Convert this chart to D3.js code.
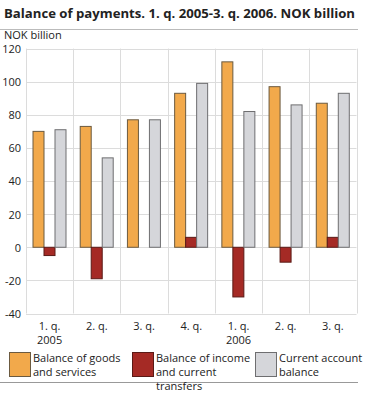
<!DOCTYPE html>
<html>
<head>
<meta charset="utf-8">
<script src="https://cdn.jsdelivr.net/npm/d3@7"></script>
<style>
body{margin:0;background:#fff;}
text{font-family:"Open Sans",sans-serif;fill:#222;}
</style>
</head>
<body>
<div id="chart"></div>
<script>
var W = 366, H = 395;
var quarters = ["1. q.", "2. q.", "3. q.", "4. q.", "1. q.", "2. q.", "3. q."];
var years = ["2005", "", "", "", "2006", "", ""];
var goods = [70, 73, 77, 93, 112, 97, 87];
var income = [-5, -19, 0, 6, -30, -9, 6];
var current = [71, 54, 77, 99, 82, 86, 93];
var colors = ["#f2a94b", "#a52a25", "#d5d6da"];
var strokes = ["#6b5a40", "#5a1a16", "#6e6e70"];
var yTicks = [-40, -20, 0, 20, 40, 60, 80, 100, 120];

var svg = d3.select("#chart").append("svg").attr("width", W).attr("height", H);

// title
svg.append("text").attr("x", 4).attr("y", 18)
  .style("font-size", "13px").style("font-weight", "bold")
  .attr("textLength", 351).attr("lengthAdjust", "spacingAndGlyphs")
  .text("Balance of payments. 1. q. 2005-3. q. 2006. NOK billion");
svg.append("line").attr("x1", 0).attr("x2", 358).attr("y1", 29.5).attr("y2", 29.5)
  .attr("stroke", "#bbb");

svg.append("text").attr("x", 4).attr("y", 39).style("font-size", "11px").text("NOK billion");

var pLeft = 26, pRight = 356.5, pTop = 48.6, pBottom = 313.5;
var x = d3.scaleBand().domain(d3.range(7)).range([pLeft, pRight]);
var y = d3.scaleLinear().domain([-40, 120]).range([pBottom, pTop]);

// grid
svg.append("g").selectAll("line").data(yTicks).enter().append("line")
  .attr("x1", pLeft).attr("x2", pRight)
  .attr("y1", function(d){ return Math.round(y(d)) + 0.5; })
  .attr("y2", function(d){ return Math.round(y(d)) + 0.5; })
  .attr("stroke", "#dcdcdc");
svg.append("g").selectAll("line").data(d3.range(8)).enter().append("line")
  .attr("x1", function(i){ return Math.round(pLeft + i * x.bandwidth()) + 0.5; })
  .attr("x2", function(i){ return Math.round(pLeft + i * x.bandwidth()) + 0.5; })
  .attr("y1", pTop).attr("y2", pBottom)
  .attr("stroke", "#dcdcdc");

// y labels
svg.append("g").selectAll("text").data(yTicks).enter().append("text")
  .attr("x", 21).attr("y", function(d){ return y(d); }).attr("dy", "0.4em")
  .attr("text-anchor", "end").style("font-size", "11px")
  .text(function(d){ return d; });

// bars
var bw = 11, off = 7;
[goods, income, current].forEach(function(vals, s) {
  var pts = vals.map(function(v, i){ return {i: i, v: v}; }).filter(function(p){ return p.v !== 0; });
  svg.append("g").selectAll("rect").data(pts).enter()
    .append("rect")
    .attr("x", function(p){ return x(p.i) + off + s * bw; })
    .attr("y", function(p){ return y(Math.max(0, p.v)); })
    .attr("width", bw)
    .attr("height", function(p){ return Math.abs(y(p.v) - y(0)); })
    .attr("fill", colors[s]).attr("stroke", strokes[s]).attr("stroke-width", 1);
});

// x labels
var xl = svg.append("g");
quarters.forEach(function(q, i) {
  var cx = x(i) + x.bandwidth() / 2;
  xl.append("text").attr("x", cx).attr("y", 330).attr("text-anchor", "middle")
    .style("font-size", "11px").text(q);
  if (years[i]) xl.append("text").attr("x", cx).attr("y", 344).attr("text-anchor", "middle")
    .style("font-size", "11px").text(years[i]);
});

// legend
svg.append("line").attr("x1", 0).attr("x2", 358).attr("y1", 382.5).attr("y2", 382.5)
  .attr("stroke", "#999");
var legX = [9, 132, 255];
var legLines = [["Balance of goods", "and services"], ["Balance of income", "and current", "transfers"], ["Current account", "balance"]];
legLines.forEach(function(lines, s) {
  svg.append("rect").attr("x", legX[s] + 0.5).attr("y", 352.5).attr("width", 21).attr("height", 24)
    .attr("fill", colors[s]).attr("stroke", strokes[s]);
  lines.forEach(function(t, k) {
    svg.append("text").attr("x", legX[s] + 24).attr("y", 362 + k * 14)
      .style("font-size", "11px").text(t);
  });
});
</script>
</body>
</html>
